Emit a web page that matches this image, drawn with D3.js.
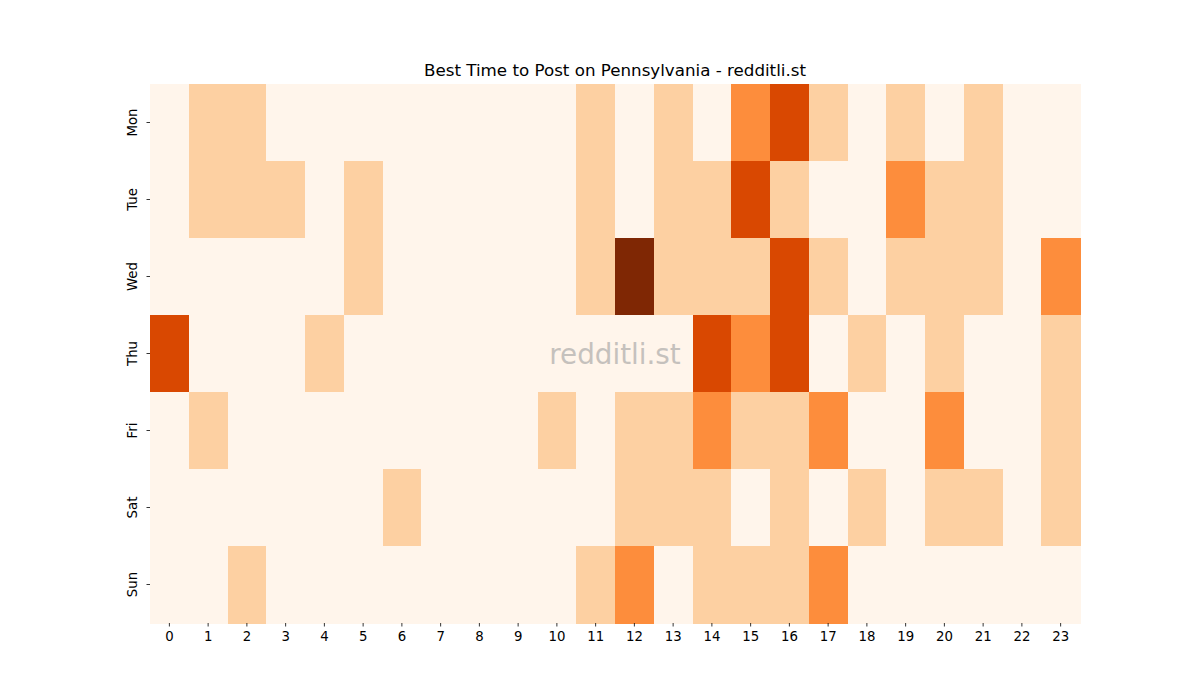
<!DOCTYPE html>
<html>
<head>
<meta charset="utf-8">
<script src="https://cdn.jsdelivr.net/npm/d3@7"></script>
<style>
  body { margin: 0; background: #fff; }
  svg text { font-family: "DejaVu Sans", sans-serif; }
</style>
</head>
<body>
<div id="chart"></div>
<script>
(function () {
"use strict";

// Data: activity level per weekday (rows) and hour (columns), 0..4
var days = ["Mon", "Tue", "Wed", "Thu", "Fri", "Sat", "Sun"];
var hours = d3.range(0, 24);
var monVals = [0,1,1,0,0,0,0,0,0,0,0,1,0,1,0,2,3,1,0,1,0,1,0,0];
var tueVals = [0,1,1,1,0,1,0,0,0,0,0,1,0,1,1,3,1,0,0,2,1,1,0,0];
var wedVals = [0,0,0,0,0,1,0,0,0,0,0,1,4,1,1,1,3,1,0,1,1,1,0,2];
var thuVals = [3,0,0,0,1,0,0,0,0,0,0,0,0,0,3,2,3,0,1,0,1,0,0,1];
var friVals = [0,1,0,0,0,0,0,0,0,0,1,0,1,1,2,1,1,2,0,0,2,0,0,1];
var satVals = [0,0,0,0,0,0,1,0,0,0,0,0,1,1,1,0,1,0,1,0,1,1,0,1];
var sunVals = [0,0,1,0,0,0,0,0,0,0,0,1,2,0,1,1,1,2,0,0,0,0,0,0];
var levelColors = ["#fff5eb", "#fdd0a2", "#fd8d3c", "#d94801", "#7f2704"];

var rows = [monVals, tueVals, wedVals, thuVals, friVals, satVals, sunVals];
var cells = [];
rows.forEach(function(r, i) {
  r.forEach(function(v, j) {
    cells.push({ day: days[i], hour: hours[j], v: v });
  });
});

var fullWidth = 1200, fullHeight = 700;
var margins = { left: 150, right: 120, top: 84, bottom: 77 };
var width = fullWidth - margins.left - margins.right,
    height = fullHeight - margins.top - margins.bottom;

var xScale = d3.scaleBand().domain(hours).range([0, width]);
var yScale = d3.scaleBand().domain(days).range([0, height]);
var color = d3.scaleOrdinal().domain([0, 1, 2, 3, 4]).range(levelColors);

var svg = d3.select("#chart").append("svg")
  .attr("width", fullWidth)
  .attr("height", fullHeight);

var g = svg.append("g")
  .attr("transform", "translate(" + margins.left + "," + margins.top + ")");

g.selectAll("rect.cell")
  .data(cells)
  .enter()
  .append("rect")
    .attr("class", "cell")
    .attr("x", function(d) { return xScale(d.hour); })
    .attr("y", function(d) { return yScale(d.day); })
    .attr("width", xScale.bandwidth() + 0.5)
    .attr("height", yScale.bandwidth() + 0.5)
    .attr("shape-rendering", "crispEdges")
    .style("fill", function(d) { return color(d.v); });

// Axes
var xAxis = g.append("g")
  .attr("transform", "translate(0," + height + ")")
  .call(d3.axisBottom(xScale).tickSize(3.5).tickPadding(5));
var yAxis = g.append("g")
  .call(d3.axisLeft(yScale).tickSize(3.5).tickPadding(4));

[xAxis, yAxis].forEach(function(a) {
  a.select(".domain").remove();
  a.selectAll(".tick line").style("stroke", "#000").style("stroke-width", 0.8);
  a.selectAll("text").style("font-size", "13.3px").style("fill", "#000")
    .style("font-family", "'DejaVu Sans', sans-serif");
});

yAxis.selectAll(".tick text")
  .attr("x", null).attr("dy", null)
  .attr("transform", "translate(-13,0) rotate(-90)")
  .style("text-anchor", "middle")
  .attr("dominant-baseline", "auto");

// Title
svg.append("text")
  .attr("x", margins.left + width / 2)
  .attr("y", 76)
  .style("text-anchor", "middle")
  .style("font-size", "16.7px")
  .style("fill", "#000")
  .text("Best Time to Post on Pennsylvania - redditli.st");

// Watermark
svg.append("text")
  .attr("x", margins.left + width / 2)
  .attr("y", margins.top + height / 2 + 10)
  .style("text-anchor", "middle")
  .style("font-size", "27.8px")
  .style("fill", "#a0a0a0")
  .style("opacity", 0.6)
  .text("redditli.st");

})();
</script>
</body>
</html>
